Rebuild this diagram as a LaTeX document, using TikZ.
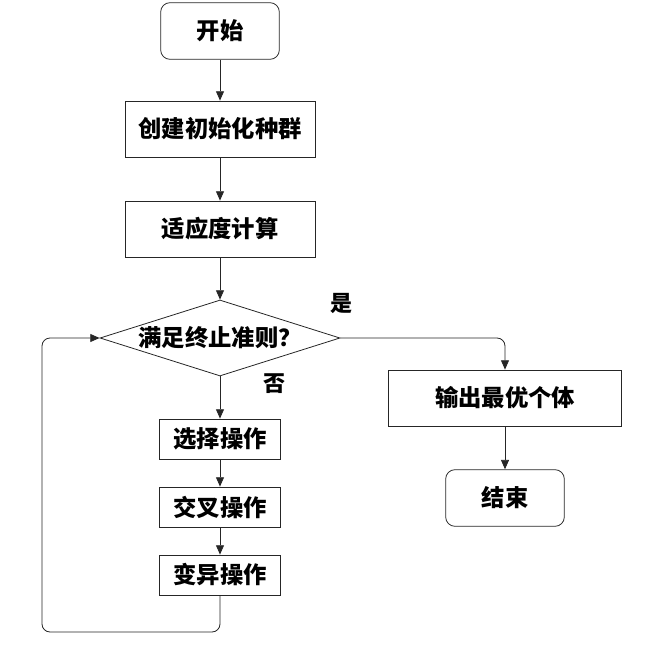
\documentclass[tikz,border=0pt]{standalone}
\usepackage{fontspec}
\newfontfamily\cjk{Noto Sans CJK SC}
\usepackage{tikz}
\usetikzlibrary{positioning,arrows.meta,shapes.geometric}

\begin{document}
\begin{tikzpicture}[
    x=0.75pt, y=-0.75pt,
    base/.style={draw=black!85, line width=0.6pt, font=\cjk\bfseries\fontsize{17.5}{20}\selectfont,
                 inner sep=1pt, align=center},
    proc/.style={base, rectangle, minimum height=42pt},
    term/.style={base, rectangle, rounded corners=7pt, minimum width=89pt, minimum height=42.5pt},
    smallproc/.style={base, rectangle, minimum width=90.5pt, minimum height=30pt},
    decide/.style={base, diamond, aspect=3.16, minimum width=180pt, minimum height=57pt, inner sep=0pt},
    tag/.style={font=\cjk\bfseries\fontsize{16.5}{19}\selectfont},
    arr/.style={draw=black!85, line width=0.6pt, -{Triangle[length=7pt, width=6pt]}},
]
\useasboundingbox (0,0) rectangle (665,646);

% main column
\node[term] (start) at (220,31) {开始};
\node[proc, minimum width=142.5pt] (init) at (220,129) {创建初始化种群};
\node[proc, minimum width=142.5pt] (fit) at (220,229) {适应度计算};
\node[decide] (cond) at (220,338) {满足终止准则？};

% genetic operators
\node[smallproc] (sel) at (220,439) {选择操作};
\node[smallproc] (cross) at (220,507) {交叉操作};
\node[smallproc] (mut) at (220,575) {变异操作};
\coordinate (back) at (42,632);

% output branch
\node[proc, minimum width=174.5pt] (out) at (505,398) {输出最优个体};
\node[term] (stop) at (505,498) {结束};

% branch labels
\node[tag] (yes) at (341,303) {是};
\node[tag] (no) at (274,384) {否};

% connectors
\draw[arr] (start) -- (init);
\draw[arr] (init) -- (fit);
\draw[arr] (fit) -- (cond);
\draw[arr] (cond) -- (sel);
\draw[arr] (sel) -- (cross);
\draw[arr] (cross) -- (mut);
\draw[arr, rounded corners=6pt] (mut.south) |- (back) |- (cond.west);
\draw[arr, rounded corners=6pt] (cond.east) -| (out.north);
\draw[arr] (out) -- (stop);
\end{tikzpicture}
\end{document}
